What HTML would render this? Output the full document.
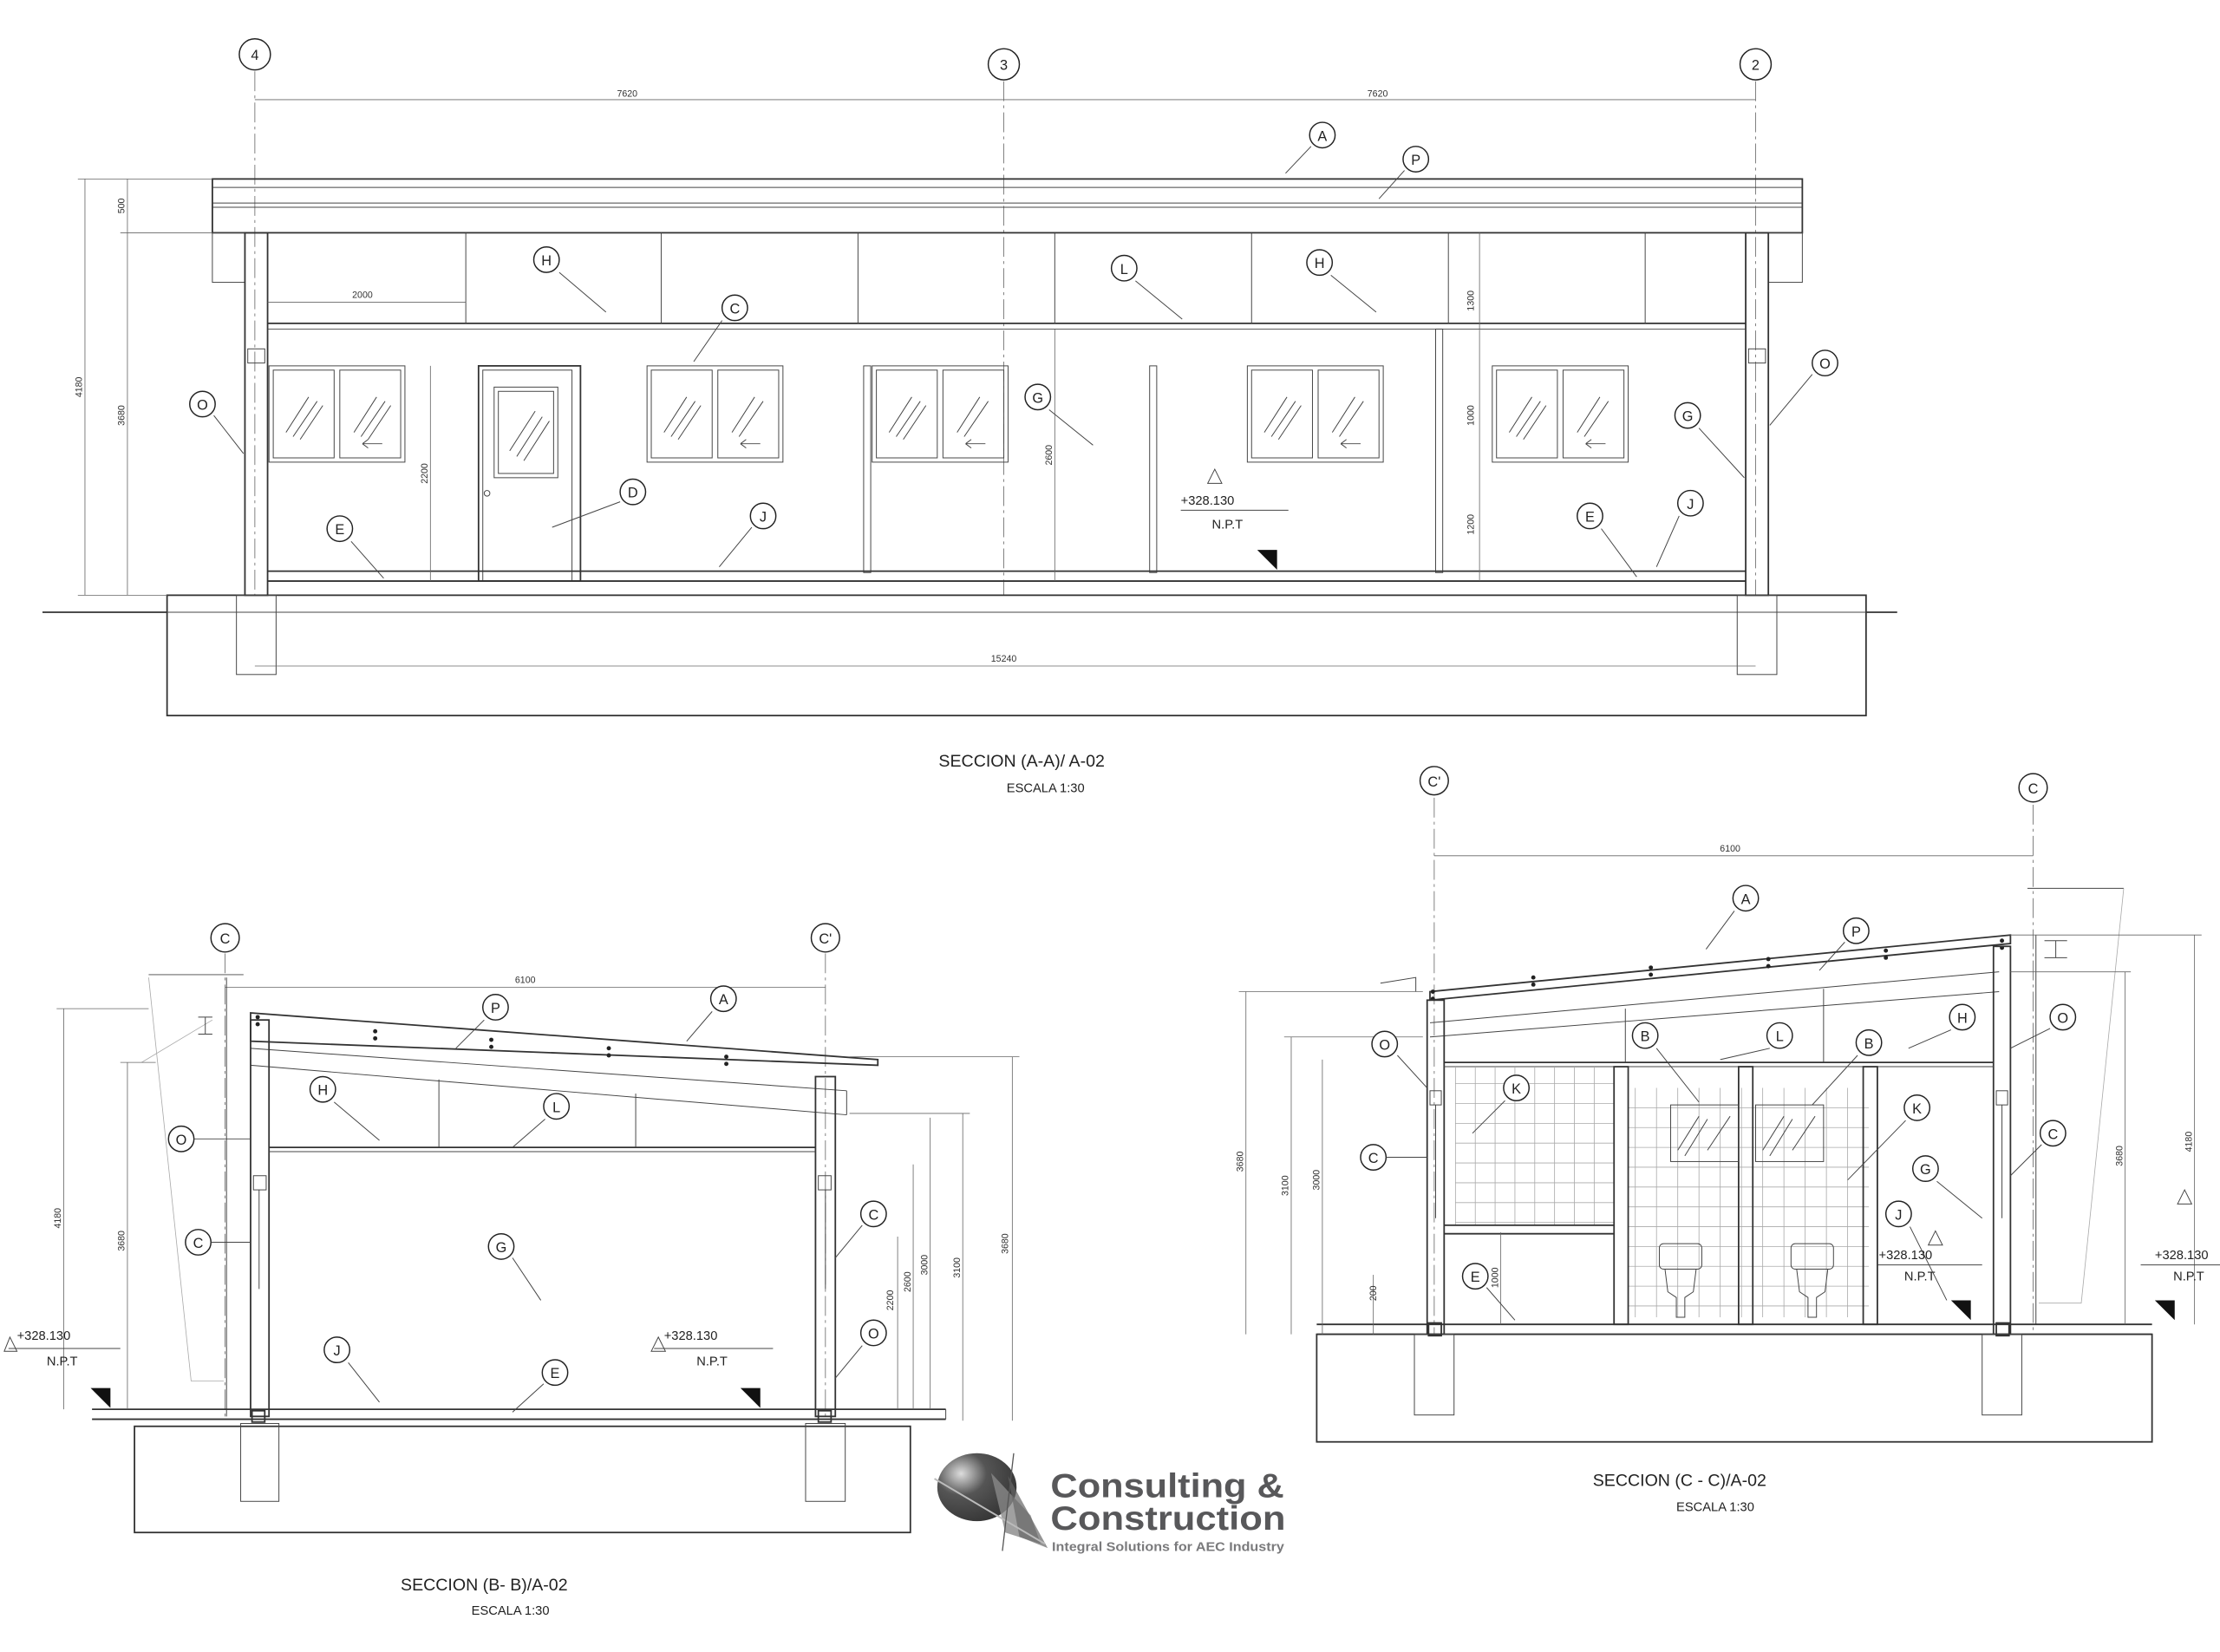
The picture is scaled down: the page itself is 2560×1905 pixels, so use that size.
<!DOCTYPE html>
<html><head><meta charset="utf-8"><style>
html,body{margin:0;padding:0;background:#fff;}
svg{display:block;}
text{font-family:"Liberation Sans",sans-serif;fill:#222;}
.l{stroke:#333;stroke-width:1.1;fill:none;}
.t{stroke:#444;stroke-width:0.6;fill:none;}
.d{stroke:#666;stroke-width:0.5;fill:none;}
.g{stroke:#aaa;stroke-width:0.5;fill:none;}
.lab circle{fill:#fff;stroke:#222;stroke-width:0.9;}
.lab text{font-size:10px;text-anchor:middle;}
.dim{font-size:6.5px;text-anchor:middle;fill:#333;}
.ttl{font-size:12px;}
.sm{font-size:9px;}
</style></head><body>
<svg width="2560" height="1905" viewBox="0 0 1568 1166" xmlns="http://www.w3.org/2000/svg">
<defs>
<pattern id="hat" width="16" height="8" patternUnits="userSpaceOnUse"><path d="M0 8 L8 0 L16 8" stroke="#c8c8c8" stroke-width="0.7" fill="none"/></pattern>
<pattern id="hat2" width="8" height="8" patternUnits="userSpaceOnUse"><path d="M0 8 L8 0" stroke="#ccc" stroke-width="0.6" fill="none"/></pattern>
<radialGradient id="ball" cx="0.3" cy="0.3" r="0.8"><stop offset="0" stop-color="#ddd"/><stop offset="0.4" stop-color="#555"/><stop offset="1" stop-color="#333"/></radialGradient>
</defs>
<rect width="1568" height="1166" fill="#fff"/>

<!-- ===== SECTION A-A ===== -->
<g>
<line class="d" x1="180" y1="50" x2="180" y2="420" stroke-dasharray="14 3 2 3"/>
<line class="d" x1="709" y1="57" x2="709" y2="420" stroke-dasharray="14 3 2 3"/>
<line class="d" x1="1240" y1="57" x2="1240" y2="420" stroke-dasharray="14 3 2 3"/>
<line class="d" x1="180" y1="70" x2="1240" y2="70"/>
<text class="dim" x="443" y="68">7620</text><text class="dim" x="973" y="68">7620</text>
<rect class="l" x="150" y="126" width="1123" height="38"/>
<line class="t" x1="150" y1="132" x2="1273" y2="132"/>
<line class="t" x1="150" y1="143" x2="1273" y2="143"/>
<line class="t" x1="150" y1="146" x2="1273" y2="146"/>
<rect class="t" x="150" y="164" width="23" height="35" fill="url(#hat2)"/>
<rect class="t" x="1249" y="164" width="24" height="35" fill="url(#hat2)"/>
<rect class="l" x="173" y="164" width="16" height="256"/>
<rect class="l" x="1233" y="164" width="16" height="256"/>
<rect class="t" x="175" y="246" width="12" height="10"/><rect class="t" x="1235" y="246" width="12" height="10"/>
<line class="l" x1="189" y1="228" x2="1233" y2="228"/><line class="t" x1="189" y1="232" x2="1233" y2="232"/>
<g class="t"><line x1="329" y1="164" x2="329" y2="228"/><line x1="467" y1="164" x2="467" y2="228"/><line x1="606" y1="164" x2="606" y2="228"/><line x1="745" y1="164" x2="745" y2="228"/><line x1="884" y1="164" x2="884" y2="228"/><line x1="1023" y1="164" x2="1023" y2="228"/><line x1="1162" y1="164" x2="1162" y2="228"/></g>
<rect class="t" x="610" y="258" width="5" height="146"/><rect class="t" x="812" y="258" width="5" height="146"/><rect class="t" x="1014" y="232" width="5" height="172"/>
<g class="t">
<rect x="190" y="258" width="96" height="68"/><rect x="193" y="261" width="43" height="62"/><rect x="240" y="261" width="43" height="62"/>
<rect x="457" y="258" width="96" height="68"/><rect x="460" y="261" width="43" height="62"/><rect x="507" y="261" width="43" height="62"/>
<rect x="616" y="258" width="96" height="68"/><rect x="619" y="261" width="43" height="62"/><rect x="666" y="261" width="43" height="62"/>
<rect x="881" y="258" width="96" height="68"/><rect x="884" y="261" width="43" height="62"/><rect x="931" y="261" width="43" height="62"/>
<rect x="1054" y="258" width="96" height="68"/><rect x="1057" y="261" width="43" height="62"/><rect x="1104" y="261" width="43" height="62"/>
<path d="M202 305 L218 280 M207 308 L224 283 M212 310 L228 286 M250 305 L266 280 M255 308 L272 283 M260 310 L276 286"/>
<path d="M469 305 L485 280 M474 308 L491 283 M479 310 L495 286 M517 305 L533 280 M522 308 L539 283"/>
<path d="M628 305 L644 280 M633 308 L650 283 M638 310 L654 286 M676 305 L692 280 M681 308 L698 283"/>
<path d="M893 305 L909 280 M898 308 L915 283 M903 310 L919 286 M941 305 L957 280 M946 308 L963 283"/>
<path d="M1066 305 L1082 280 M1071 308 L1088 283 M1076 310 L1092 286 M1114 305 L1130 280 M1119 308 L1136 283"/>
<path d="M256 313 L270 313 M256 313 L260 310 M256 313 L260 316 M523 313 L537 313 M523 313 L527 310 M523 313 L527 316 M682 313 L696 313 M682 313 L686 310 M682 313 L686 316 M947 313 L961 313 M947 313 L951 310 M947 313 L951 316 M1120 313 L1134 313 M1120 313 L1124 310 M1120 313 L1124 316"/>
</g>
<rect class="l" x="338" y="258" width="72" height="152"/><rect class="t" x="341" y="261" width="63" height="149"/>
<rect class="t" x="349" y="273" width="45" height="64"/><rect class="t" x="352" y="276" width="39" height="58"/>
<path class="t" d="M360 318 L378 290 M365 322 L383 294 M370 325 L388 297"/>
<circle class="t" cx="344" cy="348" r="2"/>
<line class="l" x1="189" y1="403" x2="1233" y2="403"/><line class="l" x1="189" y1="410" x2="1233" y2="410"/>
<line class="l" x1="30" y1="432" x2="118" y2="432"/><line class="l" x1="1318" y1="432" x2="1340" y2="432"/>
<rect x="118" y="420" width="1200" height="85" fill="url(#hat)" class="l"/>
<line class="t" x1="118" y1="432" x2="1318" y2="432"/>
<rect x="167" y="420" width="28" height="56" fill="#f4f4f4" class="t"/><rect x="1227" y="420" width="28" height="56" fill="#f4f4f4" class="t"/>
<line class="d" x1="180" y1="470" x2="1240" y2="470"/><text class="dim" x="709" y="467">15240</text>
<line class="d" x1="60" y1="126" x2="60" y2="420"/><line class="d" x1="90" y1="126" x2="90" y2="164"/><line class="d" x1="90" y1="164" x2="90" y2="420"/>
<line class="d" x1="55" y1="126" x2="150" y2="126"/><line class="d" x1="85" y1="164" x2="150" y2="164"/><line class="d" x1="55" y1="420" x2="118" y2="420"/>
<text class="dim" transform="translate(58,273) rotate(-90)">4180</text>
<text class="dim" transform="translate(88,145) rotate(-90)">500</text>
<text class="dim" transform="translate(88,293) rotate(-90)">3680</text>
<line class="d" x1="189" y1="213" x2="329" y2="213"/><text class="dim" x="256" y="210">2000</text>
<line class="d" x1="304" y1="258" x2="304" y2="410"/><text class="dim" transform="translate(302,334) rotate(-90)">2200</text>
<line class="d" x1="745" y1="232" x2="745" y2="410"/><text class="dim" transform="translate(743,321) rotate(-90)">2600</text>
<line class="d" x1="1045" y1="164" x2="1045" y2="410"/>
<text class="dim" transform="translate(1041,212) rotate(-90)">1300</text>
<text class="dim" transform="translate(1041,293) rotate(-90)">1000</text>
<text class="dim" transform="translate(1041,370) rotate(-90)">1200</text>
<text x="834" y="356" class="sm">+328.130</text><line class="t" x1="834" y1="360" x2="910" y2="360"/><text x="856" y="373" class="sm">N.P.T</text>
<path d="M888 388 L902 388 L902 402 Z" fill="#111"/><path class="t" d="M853 341 L858 331 L863 341 Z"/>
<g class="lab">
<circle cx="180" cy="38" r="11"/><text x="180" y="42">4</text>
<circle cx="709" cy="45" r="11"/><text x="709" y="49">3</text>
<circle cx="1240" cy="45" r="11"/><text x="1240" y="49">2</text>
<circle cx="934" cy="95" r="9"/><text x="934" y="99">A</text>
<circle cx="1000" cy="112" r="9"/><text x="1000" y="116">P</text>
<circle cx="386" cy="183" r="9"/><text x="386" y="187">H</text>
<circle cx="519" cy="217" r="9"/><text x="519" y="221">C</text>
<circle cx="794" cy="189" r="9"/><text x="794" y="193">L</text>
<circle cx="932" cy="185" r="9"/><text x="932" y="189">H</text>
<circle cx="143" cy="285" r="9"/><text x="143" y="289">O</text>
<circle cx="733" cy="280" r="9"/><text x="733" y="284">G</text>
<circle cx="447" cy="347" r="9"/><text x="447" y="351">D</text>
<circle cx="539" cy="364" r="9"/><text x="539" y="368">J</text>
<circle cx="240" cy="373" r="9"/><text x="240" y="377">E</text>
<circle cx="1123" cy="364" r="9"/><text x="1123" y="368">E</text>
<circle cx="1194" cy="355" r="9"/><text x="1194" y="359">J</text>
<circle cx="1192" cy="293" r="9"/><text x="1192" y="297">G</text>
<circle cx="1289" cy="256" r="9"/><text x="1289" y="260">O</text>
</g>
<path class="t" d="M926 103 L908 122 M992 120 L974 140 M395 192 L428 220 M510 226 L490 255 M802 198 L835 225 M940 194 L972 220 M151 293 L172 320 M741 289 L772 314 M438 354 L390 372 M531 372 L508 400 M248 382 L271 408 M1131 373 L1156 407 M1186 364 L1170 400 M1200 302 L1232 337 M1280 264 L1250 300"/>
<text x="663" y="541" class="ttl">SECCION (A-A)/ A-02</text>
<text x="711" y="559" class="sm">ESCALA 1:30</text>
</g>

<!-- ===== SECTION B-B ===== -->
<g>
<line class="d" x1="159" y1="673" x2="159" y2="1000" stroke-dasharray="14 3 2 3"/>
<line class="d" x1="583" y1="673" x2="583" y2="1000" stroke-dasharray="14 3 2 3"/>
<line class="d" x1="159" y1="697" x2="583" y2="697"/><text class="dim" x="371" y="694">6100</text>
<line class="t" x1="105" y1="688" x2="172" y2="688"/>
<line class="t" x1="160" y1="690" x2="160" y2="1000"/>
<path class="g" d="M105 690 L135 975 L158 975 M100 750 L150 720"/>
<path class="t" d="M140 718 L150 718 M140 730 L150 730 M145 718 L145 730"/>
<path class="l" d="M177 715 L620 748 L620 752 L177 735 Z"/>
<path class="t" d="M177 752 L598 787 M177 740 L598 770"/>
<path class="t" d="M598 770 L598 787"/>
<g fill="#222"><circle cx="265" cy="728" r="1.5"/><circle cx="265" cy="733" r="1.5"/><circle cx="347" cy="734" r="1.5"/><circle cx="347" cy="739" r="1.5"/><circle cx="430" cy="740" r="1.5"/><circle cx="430" cy="745" r="1.5"/><circle cx="513" cy="746" r="1.5"/><circle cx="513" cy="751" r="1.5"/><circle cx="182" cy="718" r="1.5"/><circle cx="182" cy="723" r="1.5"/></g>
<rect class="l" x="177" y="720" width="13" height="280"/>
<rect class="l" x="576" y="760" width="14" height="240"/>
<rect class="t" x="179" y="830" width="9" height="10"/><rect class="t" x="578" y="830" width="9" height="10"/>
<line class="t" x1="183" y1="840" x2="183" y2="910"/><line class="t" x1="583" y1="840" x2="583" y2="910"/>
<line class="l" x1="190" y1="810" x2="576" y2="810"/><line class="t" x1="190" y1="813" x2="576" y2="813"/>
<line class="t" x1="310" y1="762" x2="310" y2="810"/><line class="t" x1="449" y1="772" x2="449" y2="810"/>
<line class="l" x1="65" y1="995" x2="668" y2="995"/><line class="l" x1="65" y1="1002" x2="668" y2="1002"/>
<line class="t" x1="668" y1="995" x2="668" y2="1002"/>
<rect x="95" y="1007" width="548" height="75" fill="url(#hat)" class="l"/>
<rect x="170" y="1005" width="27" height="55" fill="#f4f4f4" class="t"/><rect x="569" y="1005" width="28" height="55" fill="#f4f4f4" class="t"/>
<rect class="l" x="178" y="996" width="9" height="8"/><rect class="l" x="578" y="996" width="9" height="8"/>
<line class="d" x1="45" y1="712" x2="45" y2="995"/><text class="dim" transform="translate(43,860) rotate(-90)">4180</text>
<line class="d" x1="90" y1="750" x2="90" y2="995"/><text class="dim" transform="translate(88,876) rotate(-90)">3680</text>
<line class="d" x1="40" y1="712" x2="105" y2="712"/><line class="d" x1="85" y1="750" x2="110" y2="750"/>
<line class="d" x1="634" y1="873" x2="634" y2="995"/><text class="dim" transform="translate(631,918) rotate(-90)">2200</text>
<line class="d" x1="645" y1="822" x2="645" y2="995"/><text class="dim" transform="translate(643,905) rotate(-90)">2600</text>
<line class="d" x1="657" y1="789" x2="657" y2="995"/><text class="dim" transform="translate(655,893) rotate(-90)">3000</text>
<line class="d" x1="680" y1="786" x2="680" y2="1003"/><text class="dim" transform="translate(678,895) rotate(-90)">3100</text>
<line class="d" x1="715" y1="746" x2="715" y2="1003"/><text class="dim" transform="translate(712,878) rotate(-90)">3680</text>
<line class="d" x1="600" y1="746" x2="720" y2="746"/><line class="d" x1="600" y1="786" x2="685" y2="786"/>
<text x="12" y="946" class="sm">+328.130</text><line class="t" x1="6" y1="952" x2="85" y2="952"/><text x="33" y="964" class="sm">N.P.T</text>
<path class="t" d="M3 954 L7 944 L12 954 Z"/><path d="M64 980 L78 980 L78 994 Z" fill="#111"/>
<text x="469" y="946" class="sm">+328.130</text><line class="t" x1="462" y1="952" x2="546" y2="952"/><text x="492" y="964" class="sm">N.P.T</text>
<path class="t" d="M460 954 L465 944 L470 954 Z"/><path d="M523 980 L537 980 L537 994 Z" fill="#111"/>
<g class="lab">
<circle cx="159" cy="662" r="10"/><text x="159" y="666">C</text>
<circle cx="583" cy="662" r="10"/><text x="583" y="666">C'</text>
<circle cx="350" cy="711" r="9"/><text x="350" y="715">P</text>
<circle cx="511" cy="705" r="9"/><text x="511" y="709">A</text>
<circle cx="228" cy="769" r="9"/><text x="228" y="773">H</text>
<circle cx="393" cy="781" r="9"/><text x="393" y="785">L</text>
<circle cx="128" cy="804" r="9"/><text x="128" y="808">O</text>
<circle cx="354" cy="880" r="9"/><text x="354" y="884">G</text>
<circle cx="140" cy="877" r="9"/><text x="140" y="881">C</text>
<circle cx="617" cy="857" r="9"/><text x="617" y="861">C</text>
<circle cx="238" cy="953" r="9"/><text x="238" y="957">J</text>
<circle cx="392" cy="969" r="9"/><text x="392" y="973">E</text>
<circle cx="617" cy="941" r="9"/><text x="617" y="945">O</text>
</g>
<path class="t" d="M342 720 L322 740 M503 714 L485 735 M236 778 L268 805 M385 790 L362 810 M137 804 L177 804 M362 888 L382 918 M149 877 L177 877 M609 865 L590 888 M246 962 L268 990 M384 977 L362 997 M609 950 L590 973"/>
<text x="283" y="1123" class="ttl">SECCION (B- B)/A-02</text>
<text x="333" y="1140" class="sm">ESCALA 1:30</text>
</g>

<!-- ===== SECTION C-C ===== -->
<g>
<line class="d" x1="1013" y1="563" x2="1013" y2="942" stroke-dasharray="14 3 2 3"/>
<line class="d" x1="1436" y1="568" x2="1436" y2="942" stroke-dasharray="14 3 2 3"/>
<line class="d" x1="1013" y1="604" x2="1436" y2="604"/><text class="dim" x="1222" y="601">6100</text>
<line class="t" x1="1432" y1="627" x2="1500" y2="627"/>
<line class="t" x1="1438" y1="660" x2="1438" y2="935"/>
<path class="g" d="M1500 627 L1470 920 L1440 920"/>
<path class="t" d="M1444 664 L1460 664 M1444 676 L1460 676 M1452 664 L1452 676"/>
<path class="l" d="M1010 700 L1420 660 L1420 666 L1010 706 Z"/>
<path class="t" d="M1010 722 L1412 686 M1010 732 L1412 700"/>
<path class="t" d="M975 694 L1000 690 L1000 700"/>
<g fill="#222"><circle cx="1083" cy="690" r="1.5"/><circle cx="1083" cy="695" r="1.5"/><circle cx="1166" cy="683" r="1.5"/><circle cx="1166" cy="688" r="1.5"/><circle cx="1249" cy="677" r="1.5"/><circle cx="1249" cy="682" r="1.5"/><circle cx="1332" cy="671" r="1.5"/><circle cx="1332" cy="676" r="1.5"/><circle cx="1414" cy="664" r="1.5"/><circle cx="1414" cy="669" r="1.5"/><circle cx="1012" cy="700" r="1.5"/><circle cx="1012" cy="705" r="1.5"/></g>
<rect class="l" x="1008" y="706" width="12" height="236"/>
<rect class="l" x="1408" y="668" width="12" height="274"/>
<rect class="t" x="1010" y="770" width="8" height="10"/><rect class="t" x="1410" y="770" width="8" height="10"/>
<line class="t" x1="1014" y1="780" x2="1014" y2="860"/><line class="t" x1="1414" y1="780" x2="1414" y2="860"/>
<line class="l" x1="1020" y1="750" x2="1408" y2="750"/><line class="t" x1="1020" y1="753" x2="1408" y2="753"/>
<line class="t" x1="1148" y1="712" x2="1148" y2="750"/><line class="t" x1="1288" y1="698" x2="1288" y2="750"/>
<g class="g" stroke="#555">
<path d="M1028 753 V865 M1042 753 V865 M1056 753 V865 M1070 753 V865 M1084 753 V865 M1098 753 V865 M1112 753 V865 M1126 753 V865 M1140 753 V865"/>
<path d="M1028 765 H1140 M1028 779 H1140 M1028 793 H1140 M1028 807 H1140 M1028 821 H1140 M1028 835 H1140 M1028 849 H1140 M1028 863 H1140"/>
<path d="M1155 768 V930 M1170 768 V930 M1185 768 V930 M1200 768 V930 M1215 768 V930 M1230 768 V930 M1245 768 V930 M1260 768 V930 M1275 768 V930 M1290 768 V930 M1305 768 V930"/>
<path d="M1150 782 H1320 M1150 796 H1320 M1150 810 H1320 M1150 824 H1320 M1150 838 H1320 M1150 852 H1320 M1150 866 H1320 M1150 880 H1320 M1150 894 H1320 M1150 908 H1320 M1150 922 H1320"/>
</g>
<g class="l">
<rect x="1140" y="753" width="10" height="182"/><rect x="1228" y="753" width="10" height="182"/><rect x="1316" y="753" width="10" height="182"/>
<line x1="1020" y1="865" x2="1140" y2="865"/><line x1="1020" y1="871" x2="1140" y2="871"/>
</g>
<g fill="#fff" class="t">
<rect x="1180" y="780" width="48" height="40"/><rect x="1240" y="780" width="48" height="40"/>
<rect x="1172" y="878" width="30" height="18" rx="3"/><rect x="1265" y="878" width="30" height="18" rx="3"/>
<path d="M1176 896 L1198 896 L1196 912 L1190 916 L1190 930 L1184 930 L1184 916 L1178 912 Z"/>
<path d="M1269 896 L1291 896 L1289 912 L1283 916 L1283 930 L1277 930 L1277 916 L1271 912 Z"/>
</g>
<path class="t" d="M1185 812 L1200 788 M1190 816 L1206 790 M1206 812 L1222 788 M1245 812 L1260 788 M1250 816 L1266 790 M1266 812 L1282 788"/>
<line class="l" x1="930" y1="935" x2="1520" y2="935"/><line class="l" x1="930" y1="942" x2="1520" y2="942"/>
<rect x="930" y="942" width="590" height="76" fill="url(#hat)" class="l"/>
<rect x="999" y="942" width="28" height="57" fill="#f4f4f4" class="t"/><rect x="1400" y="942" width="28" height="57" fill="#f4f4f4" class="t"/>
<rect class="l" x="1009" y="934" width="9" height="9"/><rect class="l" x="1410" y="934" width="9" height="9"/>
<line class="d" x1="880" y1="700" x2="880" y2="942"/><text class="dim" transform="translate(878,820) rotate(-90)">3680</text>
<line class="d" x1="912" y1="732" x2="912" y2="942"/><text class="dim" transform="translate(910,837) rotate(-90)">3100</text>
<line class="d" x1="934" y1="748" x2="934" y2="942"/><text class="dim" transform="translate(932,833) rotate(-90)">3000</text>
<line class="d" x1="970" y1="900" x2="970" y2="942"/><text class="dim" transform="translate(972,913) rotate(-90)">200</text>
<line class="d" x1="1060" y1="870" x2="1060" y2="935"/><text class="dim" transform="translate(1058,902) rotate(-90)">1000</text>
<line class="d" x1="1501" y1="686" x2="1501" y2="935"/><text class="dim" transform="translate(1499,816) rotate(-90)">3680</text>
<line class="d" x1="1550" y1="660" x2="1550" y2="935"/><text class="dim" transform="translate(1548,806) rotate(-90)">4180</text>
<line class="d" x1="1420" y1="660" x2="1555" y2="660"/><line class="d" x1="1420" y1="686" x2="1505" y2="686"/>
<line class="d" x1="875" y1="700" x2="1005" y2="700"/><line class="d" x1="907" y1="732" x2="1005" y2="732"/>
<text x="1327" y="889" class="sm">+328.130</text><line class="t" x1="1326" y1="893" x2="1400" y2="893"/><text x="1345" y="904" class="sm">N.P.T</text>
<path class="t" d="M1362 879 L1367 869 L1372 879 Z"/><path d="M1378 918 L1392 918 L1392 932 Z" fill="#111"/>
<text x="1522" y="889" class="sm">+328.130</text><line class="t" x1="1512" y1="893" x2="1568" y2="893"/><text x="1535" y="904" class="sm">N.P.T</text>
<path class="t" d="M1538 850 L1543 840 L1548 850 Z"/><path d="M1522 918 L1536 918 L1536 932 Z" fill="#111"/>
<g class="lab">
<circle cx="1013" cy="551" r="10"/><text x="1013" y="555">C'</text>
<circle cx="1436" cy="556" r="10"/><text x="1436" y="560">C</text>
<circle cx="1233" cy="634" r="9"/><text x="1233" y="638">A</text>
<circle cx="1311" cy="657" r="9"/><text x="1311" y="661">P</text>
<circle cx="978" cy="737" r="9"/><text x="978" y="741">O</text>
<circle cx="1162" cy="731" r="9"/><text x="1162" y="735">B</text>
<circle cx="1257" cy="731" r="9"/><text x="1257" y="735">L</text>
<circle cx="1320" cy="736" r="9"/><text x="1320" y="740">B</text>
<circle cx="1386" cy="718" r="9"/><text x="1386" y="722">H</text>
<circle cx="1457" cy="718" r="9"/><text x="1457" y="722">O</text>
<circle cx="1071" cy="768" r="9"/><text x="1071" y="772">K</text>
<circle cx="1354" cy="782" r="9"/><text x="1354" y="786">K</text>
<circle cx="970" cy="817" r="9"/><text x="970" y="821">C</text>
<circle cx="1450" cy="800" r="9"/><text x="1450" y="804">C</text>
<circle cx="1360" cy="825" r="9"/><text x="1360" y="829">G</text>
<circle cx="1341" cy="857" r="9"/><text x="1341" y="861">J</text>
<circle cx="1042" cy="901" r="9"/><text x="1042" y="905">E</text>
</g>
<path class="t" d="M1225 643 L1205 670 M1303 665 L1285 685 M987 745 L1008 768 M1170 740 L1200 778 M1250 740 L1215 748 M1312 745 L1280 780 M1378 727 L1348 740 M1448 726 L1420 740 M1063 777 L1040 800 M1346 791 L1305 833 M979 817 L1008 817 M1442 808 L1420 830 M1368 834 L1400 860 M1349 866 L1375 918 M1050 909 L1070 932"/>
<text x="1125" y="1049" class="ttl">SECCION (C - C)/A-02</text>
<text x="1184" y="1067" class="sm">ESCALA 1:30</text>
</g>

<!-- ===== LOGO ===== -->
<g>
<ellipse cx="690" cy="1050" rx="28" ry="24" fill="url(#ball)"/>
<path d="M700 1040 L728 1070 L735 1090 L710 1082 Z" fill="#888" opacity="0.8"/>
<path d="M712 1042 L720 1085 L740 1093 Z" fill="#666" opacity="0.7"/>
<line x1="660" y1="1044" x2="738" y2="1090" stroke="#bbb" stroke-width="1.2"/>
<line x1="716" y1="1026" x2="708" y2="1095" stroke="#555" stroke-width="0.8"/>
<text x="742" y="1057" textLength="165" lengthAdjust="spacingAndGlyphs" style="font-size:24px;font-weight:bold;fill:#58585a;">Consulting &amp;</text>
<text x="742" y="1080" textLength="166" lengthAdjust="spacingAndGlyphs" style="font-size:24px;font-weight:bold;fill:#58585a;">Construction</text>
<text x="743" y="1095" textLength="164" lengthAdjust="spacingAndGlyphs" style="font-size:9px;font-weight:bold;fill:#7a7a7c;">Integral Solutions for AEC Industry</text>
</g>
</svg>
</body></html>
